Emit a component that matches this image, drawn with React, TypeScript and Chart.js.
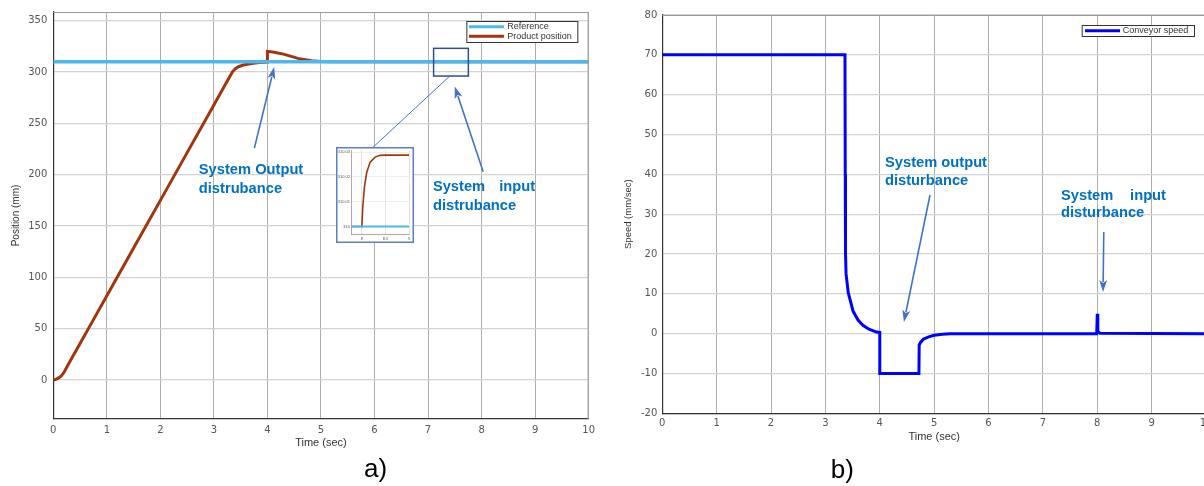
import React, { useEffect, useRef } from "react";
import { Chart, registerables } from "chart.js";

Chart.register(...registerables);

// ---------------- Data: panel a) Product position ----------------
const posTicksX = [0, 1, 2, 3, 4, 5, 6, 7, 8, 9, 10];
const posTicksY = [0, 50, 100, 150, 200, 250, 300, 350];
const refTime = [0, 10];
const refValue = [310, 310];
const posTime = [0, 0.05, 0.1, 0.15, 0.2, 0.3, 0.5, 0.75, 1, 1.5, 2, 2.5, 3, 3.2, 3.3, 3.35, 3.4, 3.46, 3.55, 3.7, 3.85, 4.0, 4.0, 4.1, 4.3, 4.57, 4.82, 5.0, 5.2, 10];
const posValue = [0, 0.6, 2, 4, 7.5, 17, 35.5, 58.8, 82, 128.5, 175, 221.5, 268, 286.6, 296, 300.5, 303.2, 305.2, 306.8, 308.3, 309.2, 309.6, 320, 319.5, 317.5, 313.3, 311, 310.3, 310, 310];

// ---------------- Data: inset (zoom of input disturbance) ----------------
const insetTicksX = [8, 8.5, 9];
const insetTicksY = [310, 310.01, 310.02, 310.03];
const insetRefTime = [7.77, 9];
const insetRefValue = [310, 310];
const insetTime = [7.77, 8.0, 8.02, 8.055, 8.106, 8.176, 8.282, 8.388, 8.5, 9.0];
const insetValue = [310, 310, 310.008, 310.016, 310.022, 310.026, 310.028, 310.0287, 310.0288, 310.0288];

// ---------------- Data: panel b) Conveyor speed ----------------
const speedTicksX = [0, 1, 2, 3, 4, 5, 6, 7, 8, 9, 10];
const speedTicksY = [-20, -10, 0, 10, 20, 30, 40, 50, 60, 70, 80];
const speedTime = [0, 3.36, 3.365, 3.37, 3.38, 3.42, 3.51, 3.6, 3.69, 3.8, 3.94, 4.0, 4.0, 4.72, 4.725, 4.75, 4.8, 4.9, 5.0, 5.15, 5.3, 7.99, 8.0, 8.01, 8.05, 10];
const speedValue = [70, 70, 40, 20, 15, 10.3, 5.6, 3.4, 2.1, 1.1, 0.4, 0.3, -10, -10, -2.8, -2.2, -1.4, -0.8, -0.4, -0.15, 0, 0, 5, 0.6, 0.1, 0];

// ---------------- Styling ----------------
const FONT = '"Liberation Sans", Arial, Helvetica, sans-serif';
const TICK_FONT = '"DejaVu Sans", "Liberation Sans", Arial, sans-serif';
const ANN_COLOR = "#0070C0";
const ARROW_COLOR = "#4472C4";
const REF_COLOR = "#4DB8EE";
const POS_COLOR = "#A0360E";
const SPEED_COLOR = "#0000FF";

// annotation placement (data coordinates)
const annotationsA = {
  texts: [
    { x: 2.718, y: 204.9, text: "System Output", align: "left" },
    { x: 2.718, y: 185.9, text: "distrubance", align: "left" },
    { x: 7.091, y: 187.9, text: "System", align: "left" },
    { x: 8.999, y: 187.9, text: "input", align: "right" },
    { x: 7.091, y: 169.3, text: "distrubance", align: "left" },
  ],
  arrows: [
    { from: [3.756, 225.9], to: [4.126, 304.9] },
    { from: [8.03, 202.8], to: [7.499, 286] },
  ],
  box: { x0: 7.104, x1: 7.753, y0: 296.1, y1: 323.1 },
  connector: { from: [7.406, 296.1], to: [5.961, 226.2] },
};

const annotationsB = {
  texts: [
    { x: 4.096, y: 42.84, text: "System output", align: "left" },
    { x: 4.096, y: 38.3, text: "disturbance", align: "left" },
    { x: 7.333, y: 34.56, text: "System", align: "left" },
    { x: 9.264, y: 34.56, text: "input", align: "right" },
    { x: 7.333, y: 30.3, text: "disturbance", align: "left" },
  ],
  arrows: [
    { from: [4.924, 34.8], to: [4.444, 2.92] },
    { from: [8.12, 25.5], to: [8.106, 10.45] },
  ],
  box: null as any,
  connector: null as any,
};

function toXY(xs: number[], ys: number[]) {
  return xs.map((x, i) => ({ x, y: ys[i] }));
}

function drawArrow(ctx: CanvasRenderingContext2D, x1: number, y1: number, x2: number, y2: number) {
  const headLen = 12;
  const headW = 4;
  const ang = Math.atan2(y2 - y1, x2 - x1);
  const bx = x2 - headLen * Math.cos(ang);
  const by = y2 - headLen * Math.sin(ang);
  ctx.strokeStyle = ARROW_COLOR;
  ctx.lineWidth = 1.6;
  ctx.beginPath();
  ctx.moveTo(x1, y1);
  ctx.lineTo(bx + 2 * Math.cos(ang), by + 2 * Math.sin(ang));
  ctx.stroke();
  ctx.fillStyle = ARROW_COLOR;
  ctx.beginPath();
  ctx.moveTo(x2, y2);
  ctx.lineTo(bx + headW * Math.sin(ang), by - headW * Math.cos(ang));
  ctx.lineTo(bx + 3 * Math.cos(ang), by + 3 * Math.sin(ang));
  ctx.lineTo(bx - headW * Math.sin(ang), by + headW * Math.cos(ang));
  ctx.closePath();
  ctx.fill();
}

function makeOverlay(opts: {
  ann: typeof annotationsA;
  legend: { rightInset: number; topInset: number; w: number; h: number; rows: number[]; line0: number; line1: number; textX: number; size: number };
  panel: { text: string; x: number; y: number };
}) {
  return {
    id: "overlay",
    afterDraw(chart: any) {
      const { ctx, chartArea: ca, scales } = chart;
      const xs = scales.x;
      const ys = scales.y;
      ctx.save();
      // top & right frame lines
      ctx.strokeStyle = "#9a9a9a";
      ctx.lineWidth = 1;
      ctx.beginPath();
      ctx.moveTo(ca.left, ca.top + 0.5);
      ctx.lineTo(ca.right, ca.top + 0.5);
      ctx.moveTo(ca.right - 0.5, ca.top);
      ctx.lineTo(ca.right - 0.5, ca.bottom);
      ctx.stroke();

      // zoom box and connector
      const a = opts.ann;
      if (a.box) {
        const x0 = xs.getPixelForValue(a.box.x0);
        const x1 = xs.getPixelForValue(a.box.x1);
        const y0 = ys.getPixelForValue(a.box.y1);
        const y1 = ys.getPixelForValue(a.box.y0);
        ctx.strokeStyle = "#2F4F8A";
        ctx.lineWidth = 1.5;
        ctx.strokeRect(x0, y0, x1 - x0, y1 - y0);
      }
      if (a.connector) {
        ctx.strokeStyle = ARROW_COLOR;
        ctx.lineWidth = 1;
        ctx.beginPath();
        ctx.moveTo(xs.getPixelForValue(a.connector.from[0]), ys.getPixelForValue(a.connector.from[1]));
        ctx.lineTo(xs.getPixelForValue(a.connector.to[0]), ys.getPixelForValue(a.connector.to[1]));
        ctx.stroke();
      }
      // arrows
      for (const ar of a.arrows) {
        drawArrow(
          ctx,
          xs.getPixelForValue(ar.from[0]),
          ys.getPixelForValue(ar.from[1]),
          xs.getPixelForValue(ar.to[0]),
          ys.getPixelForValue(ar.to[1])
        );
      }
      // texts
      ctx.fillStyle = ANN_COLOR;
      ctx.font = `bold 14.7px ${FONT}`;
      ctx.textBaseline = "middle";
      for (const t of a.texts) {
        ctx.textAlign = t.align as CanvasTextAlign;
        ctx.fillText(t.text, xs.getPixelForValue(t.x), ys.getPixelForValue(t.y));
      }

      // legend
      const L = opts.legend;
      const lx = ca.right - L.rightInset - L.w;
      const ly = ca.top + L.topInset;
      ctx.fillStyle = "#fff";
      ctx.fillRect(lx, ly, L.w, L.h);
      ctx.strokeStyle = "#333";
      ctx.lineWidth = 1;
      ctx.strokeRect(lx + 0.5, ly + 0.5, L.w, L.h);
      ctx.font = `${L.size}px ${FONT}`;
      ctx.textAlign = "left";
      ctx.textBaseline = "middle";
      chart.data.datasets.forEach((ds: any, i: number) => {
        const ry = ly + L.rows[i];
        ctx.strokeStyle = ds.borderColor;
        ctx.lineWidth = 3;
        ctx.beginPath();
        ctx.moveTo(lx + L.line0, ry);
        ctx.lineTo(lx + L.line1, ry);
        ctx.stroke();
        ctx.fillStyle = "#333";
        ctx.fillText(ds.label, lx + L.textX, ry);
      });

      // panel label
      ctx.fillStyle = "#000";
      ctx.font = `26px ${FONT}`;
      ctx.textAlign = "left";
      ctx.textBaseline = "middle";
      ctx.fillText(opts.panel.text, opts.panel.x, opts.panel.y);
      ctx.restore();
    },
  };
}

const tickFont = { family: TICK_FONT, size: 10 };

function configA(): any {
  return {
    type: "line",
    data: {
      datasets: [
        { label: "Reference", data: toXY(refTime, refValue), borderColor: REF_COLOR, borderWidth: 3.4, pointRadius: 0 },
        { label: "Product position", data: toXY(posTime, posValue), borderColor: POS_COLOR, borderWidth: 3, pointRadius: 0 },
      ],
    },
    options: {
      animation: false,
      responsive: false,
      devicePixelRatio: 1,
      layout: { padding: { top: 12, right: 7, left: 0, bottom: 0 } },
      plugins: { legend: { display: false }, tooltip: { enabled: false } },
      scales: {
        x: {
          type: "linear",
          min: 0,
          max: 10,
          afterBuildTicks: (s: any) => { s.ticks = posTicksX.map((v) => ({ value: v })); },
          afterFit: (s: any) => { s.height = 67; },
          grid: { color: "rgba(70,70,70,0.55)", lineWidth: 0.8, drawTicks: false },
          border: { color: "#333", width: 1.2 },
          ticks: { font: tickFont, color: "#555", padding: 5, maxRotation: 0, autoSkip: false },
          title: { display: true, text: "Time (sec)", font: { family: FONT, size: 11 }, color: "#333", padding: { top: 0, bottom: 36.4 } },
        },
        y: {
          type: "linear",
          min: -38,
          max: 358.5,
          afterBuildTicks: (s: any) => { s.ticks = posTicksY.map((v) => ({ value: v })); },
          afterFit: (s: any) => { s.width = 53.3; },
          grid: { color: "#d2d2d2", lineWidth: 1.3, drawTicks: false },
          border: { color: "#333", width: 1.2 },
          ticks: { font: tickFont, color: "#555", padding: 6, autoSkip: false },
          title: { display: true, text: "Position (mm)", font: { family: FONT, size: 10 }, color: "#333", padding: { top: 10.7, bottom: 0 } },
        },
      },
    },
    plugins: [
      makeOverlay({
        ann: annotationsA,
        legend: { rightInset: 11.3, topInset: 9, w: 111, h: 21, rows: [5.7, 15.3], line0: 2.6, line1: 37.6, textX: 41, size: 9 },
        panel: { text: "a)", x: 364, y: 470 },
      }),
    ],
  };
}

function configB(): any {
  return {
    type: "line",
    data: {
      datasets: [
        { label: "Conveyor speed", data: toXY(speedTime, speedValue), borderColor: SPEED_COLOR, borderWidth: 3, pointRadius: 0 },
      ],
    },
    options: {
      animation: false,
      responsive: false,
      devicePixelRatio: 1,
      layout: { padding: { top: 15, right: 14, left: 0, bottom: 0 } },
      plugins: { legend: { display: false }, tooltip: { enabled: false } },
      scales: {
        x: {
          type: "linear",
          min: 0,
          max: 10,
          afterBuildTicks: (s: any) => { s.ticks = speedTicksX.map((v) => ({ value: v })); },
          afterFit: (s: any) => { s.height = 72.7; },
          grid: { color: "rgba(70,70,70,0.55)", lineWidth: 0.8, drawTicks: false },
          border: { color: "#333", width: 1.2 },
          ticks: { font: tickFont, color: "#555", padding: 4, maxRotation: 0, autoSkip: false },
          title: { display: true, text: "Time (sec)", font: { family: FONT, size: 11 }, color: "#333", padding: { top: 0, bottom: 42.7 } },
        },
        y: {
          type: "linear",
          min: -20,
          max: 80,
          afterBuildTicks: (s: any) => { s.ticks = speedTicksY.map((v) => ({ value: v })); },
          afterFit: (s: any) => { s.width = 62.3; },
          grid: { color: "#d2d2d2", lineWidth: 1.3, drawTicks: false },
          border: { color: "#333", width: 1.2 },
          ticks: { font: tickFont, color: "#555", padding: 5, autoSkip: false },
          title: { display: true, text: "Speed (mm/sec)", font: { family: FONT, size: 9.5 }, color: "#333", padding: { top: 22.3, bottom: 0 } },
        },
      },
    },
    plugins: [
      makeOverlay({
        ann: annotationsB,
        legend: { rightInset: 12, topInset: 10, w: 112.3, h: 11, rows: [5.7], line0: 3.3, line1: 38.3, textX: 41, size: 9 },
        panel: { text: "b)", x: 230.7, y: 471 },
      }),
    ],
  };
}

function configInset(): any {
  const small = { family: FONT, size: 4 };
  return {
    type: "line",
    data: {
      datasets: [
        { label: "Reference", data: toXY(insetRefTime, insetRefValue), borderColor: REF_COLOR, borderWidth: 2, pointRadius: 0 },
        { label: "Product position", data: toXY(insetTime, insetValue), borderColor: POS_COLOR, borderWidth: 1.6, pointRadius: 0 },
      ],
    },
    options: {
      animation: false,
      responsive: false,
      devicePixelRatio: 1,
      layout: { padding: { top: 3, right: 5, left: 0, bottom: 0 } },
      plugins: { legend: { display: false }, tooltip: { enabled: false } },
      scales: {
        x: {
          type: "linear",
          min: 7.77,
          max: 9,
          afterBuildTicks: (s: any) => { s.ticks = insetTicksX.map((v) => ({ value: v })); },
          afterFit: (s: any) => { s.height = 9; },
          grid: { color: "#cfcfcf", lineWidth: 0.6, drawTicks: false },
          border: { color: "#888", width: 0.7 },
          ticks: { font: small, color: "#555", padding: 2.6, maxRotation: 0, autoSkip: false, callback: (v: any) => String(v) },
        },
        y: {
          type: "linear",
          min: 309.997,
          max: 310.0307,
          afterBuildTicks: (s: any) => { s.ticks = insetTicksY.map((v) => ({ value: v })); },
          afterFit: (s: any) => { s.width = 15; },
          grid: { color: "#e2e2e2", lineWidth: 0.6, drawTicks: false },
          border: { color: "#888", width: 0.7 },
          ticks: { font: small, color: "#555", padding: 1, autoSkip: false, callback: (v: any) => String(v) },
        },
      },
    },
    plugins: [
      {
        id: "insetFrame",
        beforeDraw(chart: any) {
          const { ctx, width, height } = chart;
          ctx.save();
          ctx.fillStyle = "#fff";
          ctx.fillRect(0, 0, width, height);
          ctx.restore();
        },
        afterDraw(chart: any) {
          const { ctx, width, height } = chart;
          ctx.save();
          ctx.strokeStyle = "#5B7FC7";
          ctx.lineWidth = 1.5;
          ctx.strokeRect(0.75, 0.75, width - 1.5, height - 1.5);
          ctx.restore();
        },
      },
    ],
  };
}

export default function App() {
  const aRef = useRef<HTMLCanvasElement>(null);
  const bRef = useRef<HTMLCanvasElement>(null);
  const iRef = useRef<HTMLCanvasElement>(null);

  useEffect(() => {
    const charts: Chart[] = [];
    if (aRef.current) charts.push(new Chart(aRef.current, configA()));
    if (bRef.current) charts.push(new Chart(bRef.current, configB()));
    if (iRef.current) charts.push(new Chart(iRef.current, configInset()));
    return () => charts.forEach((c) => c.destroy());
  }, []);

  return (
    <div style={{ position: "absolute", left: 0, top: 0, width: 1204, height: 486, overflow: "hidden", background: "#fff" }}>
      <canvas ref={aRef} width={600} height={486} style={{ position: "absolute", left: 0, top: 0, width: 600, height: 486 }} />
      <canvas ref={bRef} width={620} height={486} style={{ position: "absolute", left: 600, top: 0, width: 620, height: 486 }} />
      <canvas ref={iRef} width={78} height={96} style={{ position: "absolute", left: 336, top: 147, width: 78, height: 96 }} />
    </div>
  );
}
